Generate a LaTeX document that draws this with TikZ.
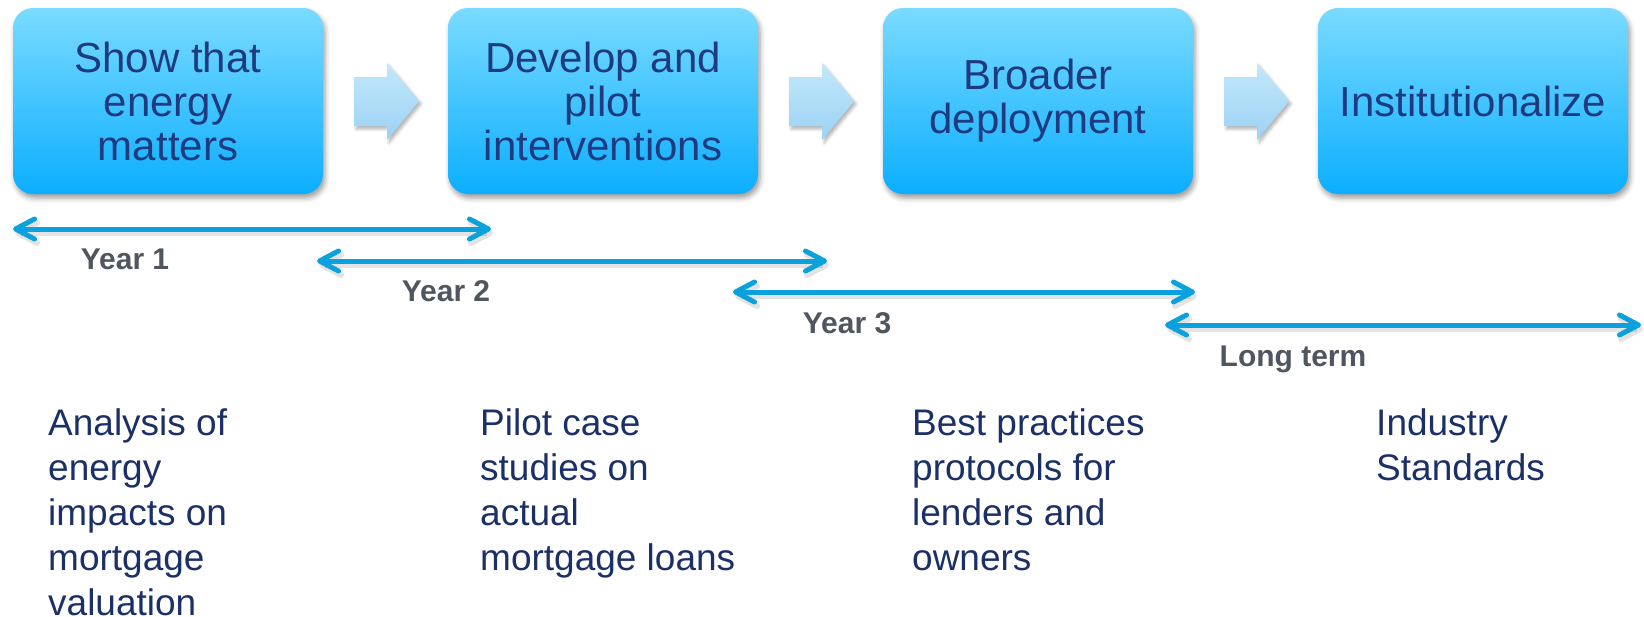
\documentclass[tikz,border=0pt]{standalone}
\usepackage{fontspec}
\setmainfont{Liberation Sans}
\usetikzlibrary{arrows.meta,calc,shadows.blur}

\definecolor{boxtop}{RGB}{122,219,255}
\definecolor{boxbot}{RGB}{12,174,255}
\definecolor{boxtext}{RGB}{31,59,128}
\definecolor{notetext}{RGB}{28,48,104}
\definecolor{spanlabel}{RGB}{80,86,96}
\definecolor{spanblue}{RGB}{10,161,221}
\definecolor{chevtop}{RGB}{194,232,251}
\definecolor{chevbot}{RGB}{156,210,244}

\tikzset{
  stagebox/.style={rounded corners=20pt, minimum width=310pt, minimum height=186pt,
    inner sep=0pt, top color=boxtop, bottom color=boxbot, draw=none,
    text=boxtext, align=center, font=\fontsize{42}{44}\selectfont,
    blur shadow={shadow xshift=2pt, shadow yshift=-4pt, shadow blur radius=5pt, shadow opacity=40}},
  chevron/.style={top color=chevtop, bottom color=chevbot, draw=none,
    blur shadow={shadow xshift=2pt, shadow yshift=-3pt, shadow blur radius=3pt, shadow opacity=30}},
  span/.style={draw=spanblue, line width=5pt,
    {Straight Barb[length=19pt,width=20pt,round]}-{Straight Barb[length=19pt,width=20pt,round]},
    preaction={draw=black!60, opacity=0.18, line width=6pt,
      transform canvas={shift={(2,4)}}}},
  spantag/.style={anchor=base, text=spanlabel, font=\fontsize{30}{32}\selectfont\bfseries, inner sep=0pt},
  note/.style={anchor=north west, align=left, text=notetext, inner sep=0pt,
    font=\fontsize{37}{45}\selectfont},
}

\begin{document}
\begin{tikzpicture}[x=1pt,y=-1pt]
\useasboundingbox (0,0) rectangle (1644,616);

% stage boxes
\node[stagebox] (b1) at (168,101) {Show that\\energy\\matters};
\node[stagebox] (b2) at (603,101) {Develop and\\pilot\\interventions};
\node[stagebox] (b3) at (1038,101) {Broader\\deployment};
\node[stagebox] (b4) at (1473,101) {Institutionalize};

% block arrows between the stages
\foreach \s in {b1,b2,b3}{
  \path[chevron] ($(\s.east)+(31,-24)$) -- ($(\s.east)+(64,-24)$) -- ($(\s.east)+(64,-38)$)
    -- ($(\s.east)+(96,0)$) -- ($(\s.east)+(64,39)$) -- ($(\s.east)+(64,25)$)
    -- ($(\s.east)+(31,25)$) -- cycle;
}

% time spans
\coordinate (y1a) at (13,229);   \coordinate (y1b) at (491,229);
\coordinate (y2a) at (317,261);  \coordinate (y2b) at (827,261);
\coordinate (y3a) at (733,292);  \coordinate (y3b) at (1195,292);
\coordinate (lta) at (1165,325); \coordinate (ltb) at (1641,325);
\draw[span] (y1a) -- (y1b);
\draw[span] (y2a) -- (y2b);
\draw[span] (y3a) -- (y3b);
\draw[span] (lta) -- (ltb);

\node[spantag] (t1) at (125,269) {Year 1};
\node[spantag] (t2) at (446,301) {Year 2};
\node[spantag] (t3) at (847,333) {Year 3};
\node[spantag] (t4) at (1293,366) {Long term};

% outcomes
\node[note] (n1) at (48,408) {Analysis of\\energy\\impacts on\\mortgage\\valuation};
\node[note] (n2) at (480,408) {Pilot case\\studies on\\actual\\mortgage loans};
\node[note] (n3) at (912,408) {Best practices\\protocols for\\lenders and\\owners};
\node[note] (n4) at (1376,408) {Industry\\Standards};
\end{tikzpicture}
\end{document}
